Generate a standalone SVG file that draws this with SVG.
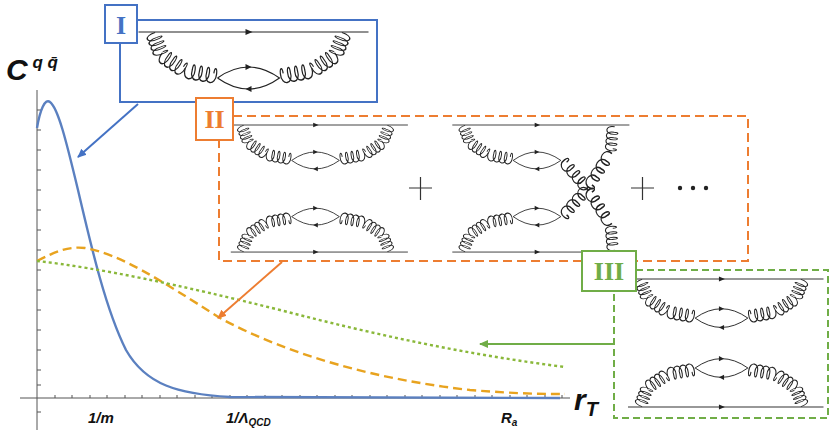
<svg xmlns="http://www.w3.org/2000/svg" xmlns:xlink="http://www.w3.org/1999/xlink" width="830" height="434" viewBox="0 0 830 434">
<style>
.fl{fill:none;stroke:#222;stroke-width:1.1}
.ax{stroke:#555;stroke-width:1;fill:none}
.lbl{font-family:"Liberation Sans",Arial,sans-serif;font-weight:bold;font-style:italic;fill:#111}
.rom{font-family:"Liberation Serif","Times New Roman",serif;font-weight:bold;font-size:26px;text-anchor:middle}
</style>
<defs>
<path id="coil" class="fl" d="M0,-3 c-1.5,10 10,10 9,0 c-0.4,-5 -2.8,-5 -2.5,0 c-1.5,10 10,10 9,0 c-0.4,-5 -2.8,-5 -2.5,0 c-1.5,10 10,10 9,0 c-0.4,-5 -2.8,-5 -2.5,0 c-1.5,10 10,10 9,0 c-0.4,-5 -2.8,-5 -2.5,0"/>
<g id="leftG">
<use xlink:href="#coil" transform="translate(-97,2) rotate(68.2) scale(0.79,1.3)"/>
<use xlink:href="#coil" transform="translate(-88.2,24) rotate(33.6) scale(0.97,1.3)"/>
<use xlink:href="#coil" transform="translate(-64,40.1) rotate(10.1) scale(1.12,1.3)"/>
</g>
<g id="gpair"><use xlink:href="#leftG"/><use xlink:href="#leftG" transform="scale(-1,1)"/></g>
<g id="bub">
<path class="fl" d="M-31,46 Q0,24 31,46 Q0,68 -31,46"/>
<path d="M3,35 l-6,-3 v6z" fill="#222"/>
<path d="M-3,57 l6,-3 v6z" fill="#222"/>
</g>
<g id="qline"><path class="fl" d="M-110,0 H120"/><path d="M4,0 l-7,-3 v6z" fill="#222"/></g>
<g id="xg">
<use xlink:href="#coil" transform="translate(97,2) rotate(95) scale(1.1,1.3)"/>
<use xlink:href="#coil" transform="translate(94,35) rotate(122.5) scale(1.86,1.3)"/>
<use xlink:href="#coil" transform="translate(64,82) rotate(131.6) scale(1.65,1.3)"/>
</g>
<marker id="mb" markerWidth="10" markerHeight="10" refX="8" refY="5" orient="auto" markerUnits="userSpaceOnUse"><path d="M0,1 L9,5 L0,9z" fill="#4472C4"/></marker>
<marker id="mo" markerWidth="10" markerHeight="10" refX="8" refY="5" orient="auto" markerUnits="userSpaceOnUse"><path d="M0,1 L9,5 L0,9z" fill="#ED7D31"/></marker>
<marker id="mg" markerWidth="10" markerHeight="10" refX="8" refY="5" orient="auto" markerUnits="userSpaceOnUse"><path d="M0,1 L9,5 L0,9z" fill="#70AD47"/></marker>
</defs>
<rect width="830" height="434" fill="#fff"/>

<g id="axes">
<path class="ax" d="M37,90 V430 M20,398 H570"/>
<path class="ax" d="M37,110 h4 M37,130 h4 M37,150 h4 M37,170 h4 M37,190 h4 M37,210 h4 M37,230 h4 M37,250 h4 M37,270 h4 M37,290 h4 M37,310 h4 M37,330 h4 M37,350 h4 M37,370 h4 M37,385 h4 M37,412 h4"/>
<path class="ax" d="M55,398 v-3 M72,398 v-3 M90,398 v-3 M107,398 v-3 M125,398 v-3 M142,398 v-3 M160,398 v-3 M177,398 v-3 M195,398 v-3 M212,398 v-3 M230,398 v-3 M247,398 v-3 M265,398 v-3 M282,398 v-3 M300,398 v-3 M317,398 v-3 M335,398 v-3 M352,398 v-3 M370,398 v-3 M387,398 v-3 M405,398 v-3 M422,398 v-3 M440,398 v-3 M457,398 v-3 M475,398 v-3 M492,398 v-3 M510,398 v-3 M527,398 v-3 M545,398 v-3 M562,398 v-3"/>
<text class="lbl" x="88" y="423" font-size="15">1/m</text>
<text class="lbl" x="226" y="423" font-size="15">1/Λ<tspan font-size="10" dy="3">QCD</tspan></text>
<text class="lbl" x="501" y="423" font-size="15">R<tspan font-size="10" dy="3">a</tspan></text>
<text class="lbl" x="574" y="410" font-size="30">r<tspan font-size="20" dy="6">T</tspan></text>
<text class="lbl" x="6" y="80" font-size="30">C<tspan font-size="17" dy="-12"> q q̄</tspan></text>
</g>

<g id="curves">
<path fill="none" stroke="#5B80C0" stroke-width="2.4" d="M37,128 C40,110 45,98 50,102 C58,108 66,140 78,190 C92,250 106,310 126,350 C146,385 178,394 230,397 L560,398"/>
<path fill="none" stroke="#E8A31F" stroke-width="2.4" stroke-dasharray="9,5" d="M37,261 C55,252 68,246 85,248 C120,254 160,280 220,318 C290,356 380,380 470,390 C520,394 545,394 565,394"/>
<path fill="none" stroke="#8AB83A" stroke-width="2.4" stroke-dasharray="3,3" d="M37,261 C100,268 180,285 280,310 C380,336 470,355 565,367"/>
</g>

<g id="connectors" stroke-width="2" fill="none">
<path d="M138,104 L78,157" stroke="#4472C4" marker-end="url(#mb)"/>
<path d="M282,262 L218,318" stroke="#ED7D31" marker-end="url(#mo)"/>
<path d="M614,344 L480,344" stroke="#70AD47" marker-end="url(#mg)"/>
</g>

<g id="nodeI">
<rect x="120" y="20" width="257" height="82" fill="#fff" stroke="#4472C4" stroke-width="2"/>
<g transform="translate(248.5,32)">
<use xlink:href="#qline"/><use xlink:href="#gpair"/><use xlink:href="#bub"/>
</g>
<rect x="105" y="5" width="32" height="38" fill="#fff" stroke="#4472C4" stroke-width="2"/>
<text class="rom" x="121" y="34" fill="#4472C4">I</text>
</g>

<g id="nodeII">
<rect x="219" y="116" width="529" height="145" fill="#fff" stroke="#ED7D31" stroke-width="2" stroke-dasharray="9,5"/>
<g transform="translate(315.5,125) scale(0.77)">
<use xlink:href="#qline"/><use xlink:href="#gpair"/><use xlink:href="#bub"/>
<use xlink:href="#qline" transform="translate(0,165)"/>
<use xlink:href="#gpair" transform="translate(0,165) scale(1,-1)"/>
<use xlink:href="#bub" transform="translate(0,73)"/>
</g>
<g transform="translate(537,125) scale(0.77)">
<use xlink:href="#qline"/><use xlink:href="#leftG"/><use xlink:href="#bub"/>
<use xlink:href="#qline" transform="translate(0,165)"/>
<use xlink:href="#leftG" transform="translate(0,165) scale(1,-1)"/>
<use xlink:href="#bub" transform="translate(0,73)"/>
<use xlink:href="#xg"/>
<use xlink:href="#xg" transform="translate(0,165) scale(1,-1)"/>
</g>
<path d="M409,188 h23 M420.5,177 v23 M631,188 h23 M642.5,177 v23" stroke="#333" stroke-width="1.2"/>
<circle cx="680" cy="188" r="2.2" fill="#222"/><circle cx="693" cy="188" r="2.2" fill="#222"/><circle cx="706" cy="188" r="2.2" fill="#222"/>
<rect x="196" y="98" width="37" height="42" fill="#fff" stroke="#ED7D31" stroke-width="2"/>
<text class="rom" x="214.5" y="128" fill="#ED7D31">II</text>
</g>

<g id="nodeIII">
<rect x="614" y="270" width="214" height="148" fill="#fff" stroke="#70AD47" stroke-width="2" stroke-dasharray="7,4"/>
<g transform="translate(721.5,279) scale(0.85)">
<use xlink:href="#qline"/><use xlink:href="#gpair"/><use xlink:href="#bub"/>
<use xlink:href="#qline" transform="translate(0,150.6)"/>
<use xlink:href="#gpair" transform="translate(0,150.6) scale(1,-1)"/>
<use xlink:href="#bub" transform="translate(0,58.7)"/>
</g>
<rect x="582" y="251" width="54" height="40" fill="#fff" stroke="#70AD47" stroke-width="2"/>
<text class="rom" x="609" y="280" fill="#70AD47">III</text>
</g>
</svg>
